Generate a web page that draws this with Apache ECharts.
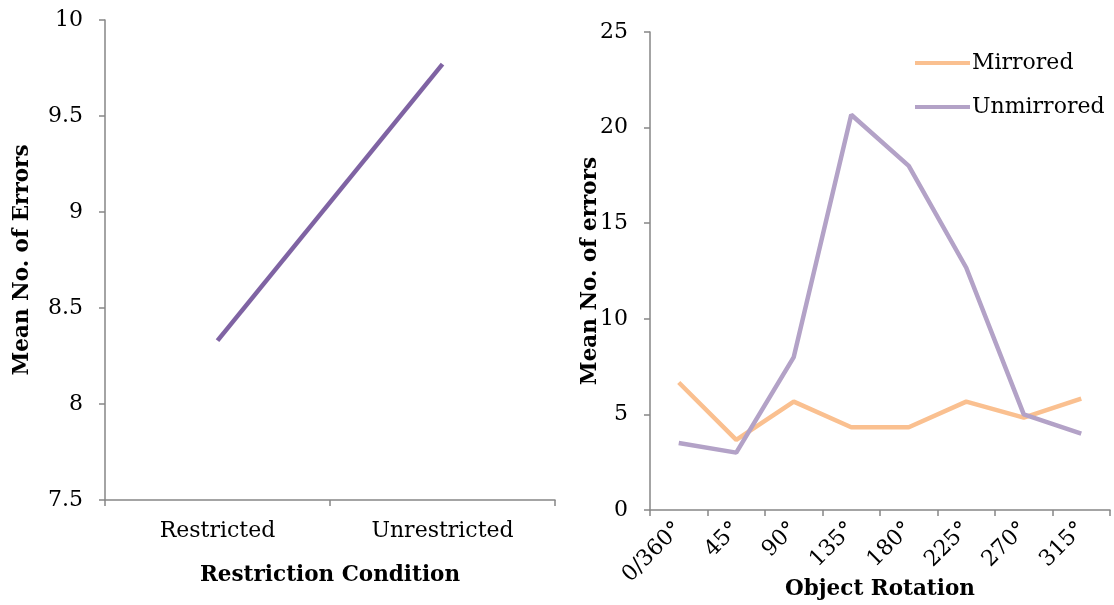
<!DOCTYPE html>
<html><head><meta charset="utf-8">
<script src="https://cdn.jsdelivr.net/npm/echarts@6/dist/echarts.min.js"></script>
<style>html,body{margin:0;padding:0;background:#fff}#c{width:1114px;height:605px}</style>
</head><body><div id="c"></div>
<script>
const restrictionCategories = ['Restricted', 'Unrestricted'];
const restrictionErrors = [8.33, 9.77];
const leftYTicks = [7.5, 10, 0.5]; // min, max, interval

const rotationCategories = ['0/360°', '45°', '90°', '135°', '180°', '225°', '270°', '315°'];
const mirroredErrors = [6.67, 3.67, 5.67, 4.33, 4.33, 5.67, 4.83, 5.83];
const unmirroredErrors = [3.5, 3.0, 8.0, 20.67, 18.0, 12.67, 5.0, 4.0];
const rightYTicks = [0, 25, 5];

const FONT = 'DejaVu Serif';
const axisLine = {show: true, lineStyle: {color: '#868686', width: 1.5}};
const axisTick = {show: true, length: 6, lineStyle: {color: '#868686', width: 1.5}};
const tickLabel = {color: '#000', fontFamily: FONT, fontSize: 22};
const nameStyle = {color: '#000', fontFamily: FONT, fontSize: 21.5, fontWeight: 'bold'};

const chart = echarts.init(document.getElementById('c'), null, {renderer: 'canvas'});
chart.setOption({
  animation: false,
  backgroundColor: '#fff',
  legend: {
    data: ['Mirrored', 'Unmirrored'],
    orient: 'vertical',
    left: 910, top: 47,
    itemWidth: 55, itemHeight: 4, itemGap: 22,
    icon: 'rect',
    textStyle: {color: '#000', fontFamily: FONT, fontSize: 22, padding: [0, 0, 0, -3]}
  },
  grid: [
    {left: 105, top: 20, width: 450, height: 480, outerBoundsMode: 'none', containLabel: false},
    {left: 650, top: 32, width: 460, height: 478, outerBoundsMode: 'none', containLabel: false}
  ],
  xAxis: [
    {type: 'category', gridIndex: 0, data: restrictionCategories, boundaryGap: true,
     axisLine, axisTick: Object.assign({}, axisTick, {alignWithLabel: false}),
     axisLabel: Object.assign({}, tickLabel, {margin: 20}),
     name: 'Restriction Condition', nameLocation: 'middle', nameGap: 64, nameMoveOverlap: false, nameTextStyle: nameStyle},
    {type: 'category', gridIndex: 1, data: rotationCategories, boundaryGap: true,
     axisLine, axisTick,
     axisLabel: Object.assign({}, tickLabel, {rotate: 45, margin: 16}),
     name: 'Object Rotation', nameLocation: 'middle', nameGap: 68, nameMoveOverlap: false, nameTextStyle: nameStyle},
  ],
  yAxis: [
    {type: 'value', gridIndex: 0, min: leftYTicks[0], max: leftYTicks[1], interval: leftYTicks[2],
     axisLine, axisTick, splitLine: {show: false},
     axisLabel: Object.assign({}, tickLabel, {margin: 22}),
     name: 'Mean No. of Errors', nameLocation: 'middle', nameRotate: 90, nameGap: 72, nameMoveOverlap: false, nameTextStyle: nameStyle},
    {type: 'value', gridIndex: 1, min: rightYTicks[0], max: rightYTicks[1], interval: rightYTicks[2],
     axisLine, axisTick, splitLine: {show: false},
     axisLabel: Object.assign({}, tickLabel, {margin: 22}),
     name: 'Mean No. of errors', nameLocation: 'middle', nameRotate: 90, nameGap: 49, nameMoveOverlap: false, nameTextStyle: nameStyle}
  ],
  series: [
    {name: 'Restriction', type: 'line', xAxisIndex: 0, yAxisIndex: 0, data: restrictionErrors,
     showSymbol: false, lineStyle: {color: '#7F63A3', width: 4.5}, itemStyle: {color: '#7F63A3'}},
    {name: 'Mirrored', type: 'line', xAxisIndex: 1, yAxisIndex: 1, data: mirroredErrors,
     showSymbol: false, lineStyle: {color: '#FAC090', width: 4.5}, itemStyle: {color: '#FAC090'}},
    {name: 'Unmirrored', type: 'line', xAxisIndex: 1, yAxisIndex: 1, data: unmirroredErrors,
     showSymbol: false, lineStyle: {color: '#B3A2C7', width: 4.5}, itemStyle: {color: '#B3A2C7'}}
  ]
});
</script></body></html>
